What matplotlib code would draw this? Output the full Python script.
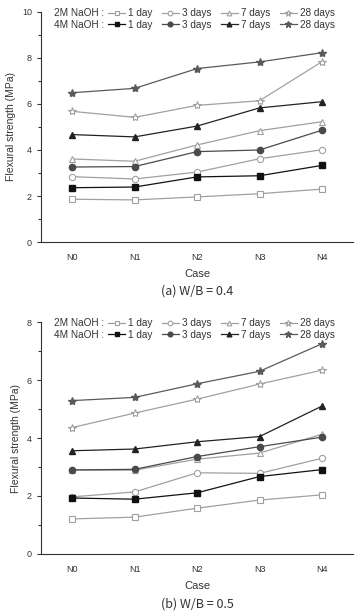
import matplotlib
matplotlib.use("Agg")
from matplotlib import pyplot as plt
from matplotlib.ticker import MultipleLocator

plt.rcParams['font.family'] = ['Liberation Sans', 'DejaVu Sans']

cases = ['N0', 'N1', 'N2', 'N3', 'N4']
ages = ['1 day', '3 days', '7 days', '28 days']

# W/B = 0.4
wb04_2m = {
    '1 day':   [1.86, 1.83, 1.96, 2.10, 2.30],
    '3 days':  [2.84, 2.74, 3.04, 3.62, 4.01],
    '7 days':  [3.61, 3.51, 4.22, 4.84, 5.23],
    '28 days': [5.68, 5.42, 5.94, 6.14, 7.84],
}
wb04_4m = {
    '1 day':   [2.36, 2.39, 2.83, 2.88, 3.33],
    '3 days':  [3.26, 3.28, 3.93, 4.00, 4.86],
    '7 days':  [4.67, 4.57, 5.04, 5.83, 6.10],
    '28 days': [6.49, 6.68, 7.54, 7.83, 8.23],
}
# W/B = 0.5
wb05_2m = {
    '1 day':   [1.21, 1.27, 1.58, 1.86, 2.04],
    '3 days':  [1.97, 2.14, 2.80, 2.78, 3.30],
    '7 days':  [2.89, 2.89, 3.27, 3.48, 4.13],
    '28 days': [4.36, 4.86, 5.34, 5.86, 6.34],
}
wb05_4m = {
    '1 day':   [1.93, 1.89, 2.11, 2.67, 2.91],
    '3 days':  [2.90, 2.92, 3.36, 3.70, 4.03],
    '7 days':  [3.56, 3.62, 3.87, 4.05, 5.10],
    '28 days': [5.29, 5.40, 5.87, 6.30, 7.25],
}

markers = {'1 day': 's', '3 days': 'o', '7 days': '^', '28 days': '*'}
msize = {'1 day': 4, '3 days': 4.5, '7 days': 4.5, '28 days': 6}
c2m = '#a0a0a0'
c4m = {'1 day': '#111111', '3 days': '#4a4a4a', '7 days': '#222222', '28 days': '#5a5a5a'}

fig = plt.figure(figsize=(3.58, 6.15), dpi=100)
ax_top = fig.add_axes([0.1145, 0.6065, 0.872, 0.374])
ax_bot = fig.add_axes([0.1145, 0.0992, 0.872, 0.3772])

panels = [
    (ax_top, wb04_2m, wb04_4m, 10, '(a) W/B = 0.4'),
    (ax_bot, wb05_2m, wb05_4m, 8, '(b) W/B = 0.5'),
]

x = list(range(len(cases)))
for ax, d2, d4, ymax, cap in panels:
    h2, h4 = [], []
    for a in ages:
        l, = ax.plot(x, d2[a], color=c2m, lw=0.9, marker=markers[a], ms=msize[a],
                     mfc='white', mec=c2m, mew=0.8)
        h2.append(l)
    for a in ages:
        l, = ax.plot(x, d4[a], color=c4m[a], lw=0.9, marker=markers[a], ms=msize[a],
                     mfc=c4m[a], mec=c4m[a])
        h4.append(l)
    ax.set_xlim(-0.5, 4.5)
    ax.set_ylim(0, ymax)
    ax.set_xticks(x)
    ax.set_xticklabels(cases)
    ax.yaxis.set_major_locator(MultipleLocator(2))
    ax.yaxis.set_minor_locator(MultipleLocator(1))
    ax.spines['top'].set_visible(False)
    ax.spines['right'].set_visible(False)
    ax.spines['left'].set_color('#333333')
    ax.spines['bottom'].set_color('#333333')
    ax.tick_params(axis='both', labelsize=6.5, colors='#333333', length=3, width=0.8)
    ax.tick_params(axis='y', which='minor', length=2, width=0.8, colors='#333333')
    ax.tick_params(axis='x', length=0, pad=8)
    ax.set_ylabel('Flexural strength (MPa)', fontsize=7.5, color='#333333', labelpad=4)
    ax.set_xlabel('Case', fontsize=8, color='#333333', labelpad=5)
    ax.text(0.5, -0.215, cap, transform=ax.transAxes, ha='center', va='center',
            fontsize=9, color='#333333', family=['Noto Sans CJK KR', 'DejaVu Sans'])

    ax.text(0.042, 0.995, '2M NaOH :', transform=ax.transAxes, ha='left', va='center',
            fontsize=7.2, color='#333333')
    ax.text(0.042, 0.945, '4M NaOH :', transform=ax.transAxes, ha='left', va='center',
            fontsize=7.2, color='#333333')
    kw = dict(ncol=4, loc='center left', frameon=False, fontsize=7.2, handlelength=1.7,
              handletextpad=0.3, columnspacing=0.95, borderpad=0, borderaxespad=0,
              labelcolor='#333333', markerscale=0.75)
    leg1 = ax.legend(h2, ages, bbox_to_anchor=(0.215, 0.995), **kw)
    ax.add_artist(leg1)
    ax.legend(h4, ages, bbox_to_anchor=(0.215, 0.945), **kw)

fig.savefig('out.png', dpi=100)
